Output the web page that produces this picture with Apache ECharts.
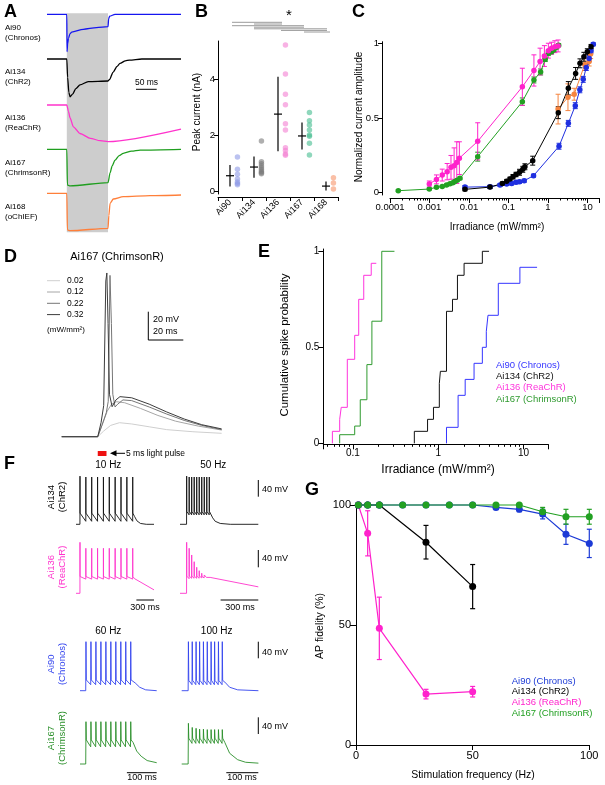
<!DOCTYPE html>
<html><head><meta charset="utf-8">
<script src="https://cdn.jsdelivr.net/npm/echarts@6/dist/echarts.min.js"></script>
<style>html,body{margin:0;padding:0;background:#fff}#c{width:605px;height:785px}</style>
</head><body><div id="c"></div>
<script>
// ================= DATA =================
// Panel A: photocurrent traces (time ms, normalized current)
const aNames = ['Ai90','Ai134','Ai136','Ai167','Ai168'];
const aSubs = ['(Chronos)','(ChR2)','(ReaChR)','(ChrimsonR)','(oChIEF)'];
const aLight = [48, 148];
const aChronos = [[0,0],[48,0],[48.6,-1.01],[50,-0.8],[52,-0.65],[56,-0.52],[60,-0.48],[88,-0.405],[120,-0.36],[148,-0.335],[149.5,-0.12],[152,-0.05],[165,0],[325,0]];
const aChR2 = [[0,0],[48,0],[50,-0.5],[53,-0.9],[56,-1.02],[62,-0.95],[70,-0.8],[80,-0.7],[100,-0.61],[148,-0.595],[152,-0.55],[160,-0.36],[170,-0.2],[177,-0.12],[190,-0.05],[200,-0.03],[230,0],[325,0]];
const aReaChR = [[0,0],[48,0],[52,-0.17],[56,-0.35],[64,-0.59],[80,-0.77],[105,-0.9],[129,-0.965],[148,-0.99],[325,-0.65]];
const aChrimsonR = [[0,0],[48,0],[49.5,-0.965],[56,-0.99],[148,-0.9],[153,-0.64],[158,-0.45],[165,-0.29],[175,-0.17],[185,-0.108],[205,-0.05],[226,-0.02],[325,0]];
const aoChIEF = [[0,0],[48,0],[49.5,-0.99],[56,-1.01],[148,-0.946],[150,-0.6],[153,-0.27],[161,-0.154],[185,-0.092],[250,-0.065],[325,-0.046]];

// Panel B: peak current (nA)
const bCats = ['Ai90','Ai134','Ai136','Ai167','Ai168'];
const bAi90 = [1.24,0.80,0.62,0.45,0.35,0.29,0.25];
const bAi134 = [1.81,1.07,1.0,0.92,0.85,0.78,0.72,0.68,0.64];
const bAi136 = [5.24,4.2,3.48,3.1,2.43,2.2,1.57,1.47,1.35,1.3];
const bAi167 = [2.83,2.53,2.38,2.2,2.02,1.98,1.73,1.31];
const bAi168 = [0.5,0.31,0.1];
const bMean = [0.57,0.88,2.77,1.99,0.2];
const bSD = [0.38,0.38,1.33,0.48,0.16];

// Panel C: [irradiance, normalized amplitude, error]
const cChronos = [[0.0079,0.035,0.01],[0.034,0.038,0.01],[0.061,0.049,0.01],[0.09,0.056,0.01],[0.12,0.06,0.01],[0.155,0.067,0.01],[0.19,0.071,0.01],[0.25,0.078,0.01],[0.43,0.112,0.01],[1.9,0.31,0.02],[3.27,0.464,0.02],[4.9,0.583,0.02],[6.4,0.69,0.02],[7.8,0.76,0.02],[9.3,0.84,0.02],[11.0,0.90,0.02],[12.3,0.953,0.015],[14.0,0.996,0.01]];
const cChR2 = [[0.0079,0.02,0.01],[0.034,0.035,0.01],[0.07,0.06,0.01],[0.09,0.075,0.012],[0.109,0.09,0.012],[0.13,0.105,0.015],[0.155,0.12,0.015],[0.19,0.135,0.02],[0.23,0.155,0.02],[0.26,0.172,0.02],[0.41,0.213,0.03],[1.82,0.536,0.04],[3.27,0.70,0.045],[5.0,0.80,0.04],[6.45,0.868,0.03],[8.1,0.912,0.03],[9.9,0.946,0.02],[12.3,0.98,0.015]];
const cReaChR = [[0.00099,0.056,0.02],[0.0015,0.087,0.03],[0.0021,0.116,0.04],[0.0028,0.139,0.055],[0.0035,0.168,0.08],[0.0042,0.179,0.12],[0.0049,0.20,0.14],[0.0057,0.23,0.11],[0.0166,0.343,0.125],[0.224,0.71,0.125],[0.44,0.82,0.105],[0.63,0.88,0.09],[0.81,0.917,0.07],[1.02,0.953,0.05],[1.23,0.97,0.04],[1.49,0.98,0.04],[1.8,0.985,0.04]];
const cChrimsonR = [[0.000162,0.011,0.005],[0.00099,0.022,0.005],[0.0015,0.034,0.006],[0.0021,0.04,0.006],[0.0027,0.049,0.006],[0.0033,0.058,0.007],[0.0039,0.065,0.007],[0.0044,0.072,0.008],[0.005,0.081,0.008],[0.0059,0.094,0.009],[0.0166,0.24,0.03],[0.224,0.61,0.025],[0.44,0.756,0.02],[0.65,0.81,0.02],[0.85,0.895,0.015],[1.02,0.935,0.015],[1.23,0.946,0.015],[1.41,0.957,0.01],[1.65,0.976,0.01],[1.86,0.99,0.01]];
const coChIEF = [[1.8,0.56,0.1],[3.2,0.64,0.09],[4.6,0.66,0.04],[8.5,0.86,0.04],[11,0.88,0.03],[12,0.93,0.03]];

// Panel D: membrane potential (ms, mV) at four irradiances
const dLevels = ['0.02','0.12','0.22','0.32'];
const d002 = [[0,-70],[20.6,-70],[24,-66],[28,-62],[33,-60.1],[40,-61],[50,-63],[60,-65],[75,-66.5],[91.4,-67.6]];
const d012 = [[0,-70],[20.6,-70],[23,-62],[26,-52],[28.5,-47],[31.4,-45.3],[36,-46],[45,-50],[55,-55],[65,-59],[78,-62.5],[91.4,-65.3]];
const d022 = [[0,-70],[20.6,-70],[23,-62],[25.5,-53],[26.6,-45],[27.6,44],[28.4,10],[29.2,-40],[30.5,-49],[32,-47],[35,-44],[40,-44.5],[50,-49],[60,-54],[70,-58.5],[80,-62],[91.4,-65]];
const d032 = [[0,-70],[20.6,-70],[22.5,-60],[24,-48],[25.2,40],[25.8,45.7],[26.5,10],[27.3,-40],[28.8,-48.8],[31,-44],[33.3,-41.7],[40,-42.5],[50,-47],[60,-52.5],[70,-57.5],[80,-61.5],[91.4,-64.5]];
const dPulse = [20.6, 25.6];

// Panel E: cumulative spike probability [irradiance, probability]
const eChronos = [[1.25,0],[1.25,0.0833],[1.71,0.25],[2.07,0.333],[2.63,0.4167],[3.29,0.5],[3.66,0.5833],[3.83,0.6667],[5.06,0.8333],[9.06,0.9167],[14.4,0.9167]];
const eChR2 = [[0.525,0],[0.525,0.0625],[0.75,0.125],[0.88,0.1875],[1.03,0.3125],[1.06,0.375],[1.25,0.6875],[1.47,0.75],[1.68,0.875],[2.01,0.9375],[3.29,1.0],[3.94,1.0]];
const eReaChR = [[0.0575,0],[0.0575,0.0625],[0.070,0.125],[0.073,0.1875],[0.086,0.4375],[0.105,0.5625],[0.117,0.75],[0.134,0.875],[0.164,0.9375],[0.188,0.9375]];
const eChrimsonR = [[0.070,0],[0.070,0.045],[0.105,0.09],[0.122,0.227],[0.146,0.41],[0.167,0.636],[0.218,1.0],[0.307,1.0]];
const eLegend = ['Ai90 (Chronos)','Ai134 (ChR2)','Ai136 (ReaChR)','Ai167 (ChrimsonR)'];

// Panel F: spike trains (ms, mV): spike times, peaks, pre-spike level, post-spike level, tail
const f1L_t = [68,168,268,368,468,568,668,768,868,968];
const f1L_pk = [42,40,40,40,40,40,40,40,40,40];
const f1L_pre = [-70,-63,-63,-63,-63,-63,-63,-63,-63,-63];
const f1L_post = [-44,-44,-44,-44,-44,-44,-44,-44,-44,-44];
const f1L_tail = [[1000,-52],[1040,-62],[1100,-68],[1200,-70],[1331,-70]];
const f1R_t = [53,73,93,113,133,153,173,193,213,233];
const f1R_pk = [42,40,40,40,40,40,40,40,40,40];
const f1R_pre = [-70,-48,-48,-48,-48,-48,-48,-48,-48,-48];
const f1R_post = [-40,-40,-40,-40,-40,-40,-40,-40,-40,-40];
const f1R_tail = [[245,-43],[260,-55],[280,-63],[320,-68],[400,-70],[623,-70]];
const f2L_t = [68,168,268,368,468,568,668,768,868,968];
const f2L_pk = [48.6,34.7,34.7,34.7,34.7,34.7,34.7,34.7,34.7,34.7];
const f2L_pre = [-70,-37,-37,-37,-37,-37,-37,-37,-37,-37];
const f2L_post = [-31,-31,-31,-31,-31,-31,-31,-31,-31,-31];
const f2L_tail = [[1000,-36],[1331,-62]];
const f2R_t = [53,73,93,113,133,153,173,193];
const f2R_pk = [48.6,34.7,19.1,3.5,-9.5,-17.4,-23.4,-27.4];
const f2R_pre = [-70,-36,-35,-35,-35,-35,-34,-34];
const f2R_post = [-30,-30,-30,-30,-30,-30,-31,-31];
const f2R_tail = [[210,-33],[240,-33],[623,-55]];
const f3L_t = [20,36.7,53.3,70,86.7,103.3,120,136.7,153.3,170];
const f3L_pk = [44,44,44,44,44,44,44,44,44,44];
const f3L_pre = [-70,-56,-56,-56,-56,-56,-56,-56,-56,-56];
const f3L_post = [-45,-45,-45,-45,-45,-45,-45,-45,-45,-45];
const f3L_tail = [[185,-52],[200,-62],[220,-68],[257,-70]];
const f3R_t = [21,33,45,56,68,80,92,103,115,127];
const f3R_pk = [44,44,44,44,44,44,44,44,44,44];
const f3R_pre = [-70,-56,-56,-56,-56,-56,-56,-56,-56,-56];
const f3R_post = [-46,-46,-46,-46,-46,-46,-46,-46,-46,-46];
const f3R_tail = [[135,-50],[150,-62],[175,-68],[240,-70]];
const f4L_t = [20,36.7,53.3,70,86.7,103.3,120,136.7,153.3,170];
const f4L_pk = [28.4,28.4,28.4,28.4,28.4,28.4,28.4,28.4,28.4,28.4];
const f4L_pre = [-70,-30,-30,-30,-30,-30,-30,-30,-30,-30];
const f4L_post = [-14,-14,-14,-14,-14,-14,-14,-14,-14,-14];
const f4L_tail = [[178,-20],[190,-40],[205,-52],[225,-62],[257,-67]];
const f4R_t = [21,33,45,56,68,80,92,103,115,127];
const f4R_pk = [24.6,15,13,11,11,10,10,10,10,10];
const f4R_pre = [-70,-22,-22,-22,-22,-22,-22,-22,-22,-22];
const f4R_post = [-10,-10,-10,-10,-10,-10,-10,-10,-10,-10];
const f4R_tail = [[135,-20],[150,-45],[175,-60],[200,-66],[240,-68]];

// Panel G: AP fidelity [frequency Hz, %, error]
const gChronos = [[1,100,0],[5,100,0],[10,100,0],[20,100,0],[30,100,0],[40,100,0],[50,100,0],[60,99,0.5],[70,98.2,1],[80,96.2,2],[90,87.8,4.2],[100,84,5.9]];
const gChR2 = [[1,100,0],[5,100,0],[10,100,0],[30,84.5,7],[50,66,9.2]];
const gReaChR = [[1,100,0],[5,88.2,9.4],[10,48.6,13],[30,21.2,2],[50,22.2,2.2]];
const gChrimsonR = [[1,100,0],[5,100,0],[10,100,0],[20,100,0],[30,100,0],[40,100,0],[50,100,0],[60,100,0],[70,100,0.5],[80,97.2,1.8],[90,95.1,3.1],[100,95.1,3.1]];

// ================= RENDER =================
const FONT = 'Liberation Sans, Arial, Helvetica, sans-serif';
const COL = {blue:'#1f2fe0', black:'#000000', mag:'#ff22cc', green:'#22a022', orange:'#f5843f'};
const grids=[], xAxes=[], yAxes=[], series=[], G=[];
function addGrid(g, xa, ya){ grids.push(Object.assign({containLabel:false}, g)); const gi=grids.length-1;
  const xs=[].concat(xa), ys=[].concat(ya); const xi=[], yi=[];
  xs.forEach(a=>{a.gridIndex=gi; xAxes.push(a); xi.push(xAxes.length-1);});
  ys.forEach(a=>{a.gridIndex=gi; yAxes.push(a); yi.push(yAxes.length-1);});
  return {x:xi[0], x2:xi[1], y:yi[0]}; }
function hid(min,max){ return {type:'value', show:false, min, max}; }
function vis(extra, fs, tl){ return Object.assign({
  axisLine:{show:true, onZero:false, lineStyle:{color:'#000', width:1}},
  axisTick:{show:true, inside:false, length:tl, lineStyle:{color:'#000', width:1}},
  axisLabel:{color:'#000', fontSize:fs, fontFamily:FONT, margin:3},
  splitLine:{show:false}}, extra); }
function txt(x,y,s,fs,o={}){ G.push({type:'text', x, y, rotation:o.rot||0, silent:true, z:100,
  style:{text:s, fontSize:fs, fontFamily:FONT, fontWeight:o.bold?'bold':'normal', fill:o.color||'#000',
  align:o.align||'left', verticalAlign:'middle', lineHeight:o.lh||Math.round(fs*1.2)}}); }
function ln(x1,y1,x2,y2,c,w){ G.push({type:'line', silent:true, z:100, shape:{x1,y1,x2,y2}, style:{stroke:c||'#000', lineWidth:w||1}}); }
function lineSer(ax, data, color, w, extra){ series.push(Object.assign({type:'line', xAxisIndex:ax.x, yAxisIndex:ax.y, data,
  symbol:'none', lineStyle:{color, width:w||1}, itemStyle:{color}, z:3, silent:true, clip:false}, extra||{})); }
function errSer(ax, data, color, cap, w){ series.push({type:'custom', xAxisIndex:ax.x, yAxisIndex:ax.y, data, z:2, silent:true,
  encode:{x:0,y:1}, renderItem:(p,api)=>{ const x=api.value(0), y=api.value(1), e=api.value(2);
   if(!e) return null; const t=api.coord([x,y+e]), b=api.coord([x,y-e]), h=cap/2;
   const st={stroke:color, lineWidth:w||1};
   return {type:'group', children:[
    {type:'line', shape:{x1:t[0],y1:t[1],x2:b[0],y2:b[1]}, style:st},
    {type:'line', shape:{x1:t[0]-h,y1:t[1],x2:t[0]+h,y2:t[1]}, style:st},
    {type:'line', shape:{x1:b[0]-h,y1:b[1],x2:b[0]+h,y2:b[1]}, style:st}]}; }}); }

// ---------- Panel A ----------
txt(4,12,'A',18,{bold:true});
const aBg = addGrid({left:47, top:13.3, width:134, height:219}, hid(0,325), hid(0,1));
series.push({type:'line', xAxisIndex:aBg.x, yAxisIndex:aBg.y, data:[], z:1, silent:true,
  markArea:{silent:true, itemStyle:{color:'#cdcdcd'}, data:[[{xAxis:aLight[0]},{xAxis:aLight[1]}]]}});
const aBase = [14.3, 59, 105, 149.3, 193.3];
const aData = [aChronos, aChR2, aReaChR, aChrimsonR, aoChIEF];
const aCol = ['#1515f0','#000000','#ff33cc','#1f9e1f','#ff7f3a'];
aData.forEach((d,k)=>{ const ax = addGrid({left:47, top:aBase[k]-3, width:134, height:42}, hid(0,325), hid(-39/37, 3/37));
  lineSer(ax, d, aCol[k], 1.3, {smooth:0.25, smoothMonotone:'x'});
  txt(5, aBase[k]+13, aNames[k], 8); txt(5, aBase[k]+23, aSubs[k], 8); });
ln(136,89.3,156.7,89.3,'#000',1); txt(146.5,83,'50 ms',8.5,{align:'center'});

// ---------- Panel B ----------
txt(195,12,'B',18,{bold:true});
const bAx = addGrid({left:218, top:41, width:120, height:153},
  [vis({type:'category', data:bCats, boundaryGap:true, offset:3,
     axisLabel:{color:'#000', fontSize:9, fontFamily:FONT, rotate:45, margin:4, interval:0}}, 9, 4), hid(-0.5,4.5)],
  vis({type:'value', min:-0.082, max:5.38,
     axisLabel:{color:'#000', fontSize:9.5, fontFamily:FONT, margin:3, customValues:[0,2,4]},
     axisTick:{show:true, length:4, lineStyle:{color:'#000'}, customValues:[0,2,4]}}, 9.5, 4));
const bDotAx = {x:bAx.x2, y:bAx.y};
const bDots = [bAi90, bAi134, bAi136, bAi167, bAi168];
const bCol = ['#8d9ae6','#7a7a7a','#f47fd2','#45bd90','#f7956a'];
bDots.forEach((arr,i)=>{ series.push({type:'scatter', xAxisIndex:bDotAx.x, yAxisIndex:bDotAx.y, symbolSize:5.5, silent:true, z:2,
  itemStyle:{color:bCol[i], opacity:0.6}, data:arr.map(v=>[i+0.31, v])}); });
series.push({type:'custom', xAxisIndex:bDotAx.x, yAxisIndex:bDotAx.y, z:3, silent:true, encode:{x:0,y:1},
  data:bMean.map((m,i)=>[i,m,bSD[i]]), renderItem:(p,api)=>{ const x=api.value(0), m=api.value(1), s=api.value(2);
   const c=api.coord([x,m]), t=api.coord([x,m+s]), b=api.coord([x,m-s]); const st={stroke:'#000', lineWidth:1.2};
   return {type:'group', children:[{type:'line', shape:{x1:c[0]-4,y1:c[1],x2:c[0]+4,y2:c[1]}, style:st},
     {type:'line', shape:{x1:t[0],y1:t[1],x2:b[0],y2:b[1]}, style:st}]}; }});
txt(197,112,'Peak current (nA)',10,{rot:Math.PI/2, align:'center'});
[[232,282,22.3],[254,282,24],[232,304,25.7],[254,304,27.2],[254,327,28.8],[281,327,30.4],[304,330,32]].forEach(s=>ln(s[0],s[2],s[1],s[2],'#9a9a9a',1));
txt(289,16,'*',15,{align:'center'});

// ---------- Panel C ----------
txt(352,12,'C',18,{bold:true});
const cAx = addGrid({left:390, top:41.7, width:209.4, height:153.3},
  vis({type:'log', logBase:10, min:0.0001, max:20, offset:3,
    axisLabel:{color:'#000', fontSize:9.5, fontFamily:FONT, margin:4, showMaxLabel:false},
    minorTick:{show:true, splitNumber:9, length:2.5, lineStyle:{color:'#000'}}}, 9.5, 5),
  vis({type:'value', min:-0.018, max:1.0135, offset:8,
    axisLabel:{color:'#000', fontSize:9.5, fontFamily:FONT, margin:3, customValues:[0,0.5,1]},
    axisTick:{show:true, length:4, lineStyle:{color:'#000'}, customValues:[0,0.5,1]}}, 9.5, 4));
[[coChIEF,COL.orange],[cChronos,COL.blue],[cChR2,COL.black],[cChrimsonR,COL.green],[cReaChR,COL.mag]].forEach(([d,c])=>{
  errSer(cAx, d, c, 5, 1);
  series.push({type:'line', xAxisIndex:cAx.x, yAxisIndex:cAx.y, data:d.map(p=>[p[0],p[1]]), symbol:'circle', symbolSize:5.5,
    showAllSymbol:true, silent:true, z:3, lineStyle:{color:c, width:1}, itemStyle:{color:c}});
});
txt(359,117,'Normalized current amplitude',10,{rot:Math.PI/2, align:'center'});
txt(497,227,'Irradiance (mW/mm²)',10,{align:'center'});

// ---------- Panel D ----------
txt(4,257,'D',18,{bold:true});
txt(117,257,'Ai167 (ChrimsonR)',11,{align:'center'});
const dAx = addGrid({left:61.7, top:270, width:160, height:170}, hid(0,91.43), hid(-72.33,47.8));
const dCol = ['#cfcfcf','#a6a6a6','#767676','#3c3c3c'];
[d002,d012,d022,d032].forEach((d,k)=>lineSer(dAx, d, dCol[k], 1, {z:3+k}));
const dStim = addGrid({left:61.7, top:451, width:160, height:5}, hid(0,91.43), hid(0,1));
series.push({type:'line', xAxisIndex:dStim.x, yAxisIndex:dStim.y, data:[], silent:true,
  markArea:{silent:true, itemStyle:{color:'#ee1111'}, data:[[{xAxis:dPulse[0]},{xAxis:dPulse[1]}]]}});
const dLegY=[280.7,292,303.3,314.6];
dLevels.forEach((s,k)=>{ ln(47,dLegY[k],60,dLegY[k],dCol[k],1); txt(67,dLegY[k],s,8.5); });
txt(66,329.3,'(mW/mm²)',8,{align:'center'});
ln(148.3,311.7,148.3,340); ln(148.3,340,183.3,340);
txt(153,319.3,'20 mV',9); txt(153,331.7,'20 ms',9);
G.push({type:'polygon', silent:true, z:100, shape:{points:[[110,453.3],[116.5,450.3],[116.5,456.3]]}, style:{fill:'#000'}});
ln(116,453.3,125,453.3);
txt(126,453.3,'5 ms light pulse',8.5);

// ---------- Panel E ----------
txt(258,252,'E',18,{bold:true});
const eAx = addGrid({left:323.3, top:249, width:225, height:195.3},
  vis({type:'log', logBase:10, min:0.045, max:19.5,
    axisLabel:{color:'#000', fontSize:10, fontFamily:FONT, margin:4, showMinLabel:false, showMaxLabel:false},
    minorTick:{show:true, splitNumber:9, length:2.5, lineStyle:{color:'#000'}}}, 10, 5),
  vis({type:'value', min:-0.005, max:1.012,
    axisLabel:{color:'#000', fontSize:10, fontFamily:FONT, margin:4, customValues:[0,0.5,1]},
    axisTick:{show:true, length:5, lineStyle:{color:'#000'}, customValues:[0,0.5,1]}}, 10, 5));
const eCol = ['#3535ff','#111111','#ff33dd','#2f9a2f'];
[eChronos,eChR2,eReaChR,eChrimsonR].forEach((d,k)=>lineSer(eAx, d, eCol[k], 1, {step:'end'}));
eLegend.forEach((s,k)=>txt(496,365+k*11.3,s,9.5,{color:eCol[k]}));
txt(285,345,'Cumulative spike probability',11.5,{rot:Math.PI/2, align:'center'});
txt(438,470,'Irradiance (mW/mm²)',12,{align:'center'});

// ---------- Panel F ----------
txt(4,464,'F',18,{bold:true});
function train(t,pk,pre,post,tail){ const pts=[[0,-70]];
  for(let i=0;i<t.length;i++){ pts.push([t[i]-0.8,pre[i]]); pts.push([t[i],pk[i]]); pts.push([t[i]+1.2,post[i]]); }
  return pts.concat(tail); }
const fMvMin=-79.3, fMvMax=50.93;
const fRows = [
 {base:524.3, col:'#111111', L:[76,78,1331, train(f1L_t,f1L_pk,f1L_pre,f1L_post,f1L_tail)], R:[180,78.3,623, train(f1R_t,f1R_pk,f1R_pre,f1R_post,f1R_tail)]},
 {base:593.3, col:'#ff33cc', L:[76,78,1331, train(f2L_t,f2L_pk,f2L_pre,f2L_post,f2L_tail)], R:[180,78.3,623, train(f2R_t,f2R_pk,f2R_pre,f2R_post,f2R_tail)]},
 {base:690.7, col:'#3344ee', L:[80,76.7,257, train(f3L_t,f3L_pk,f3L_pre,f3L_post,f3L_tail)], R:[181.7,76.7,240, train(f3R_t,f3R_pk,f3R_pre,f3R_post,f3R_tail)]},
 {base:764, col:'#2a8f2a', L:[80,76.7,257, train(f4L_t,f4L_pk,f4L_pre,f4L_post,f4L_tail)], R:[181.7,76.7,240, train(f4R_t,f4R_pk,f4R_pre,f4R_post,f4R_tail)]}];
fRows.forEach(r=>{ ['L','R'].forEach(side=>{ const s=r[side];
  const ax = addGrid({left:s[0], top:r.base-52, width:s[1], height:56}, hid(0,s[2]), hid(fMvMin,fMvMax));
  lineSer(ax, s[3], r.col, 0.9); }); });
txt(108.3,465,'10 Hz',10,{align:'center'}); txt(213.3,465,'50 Hz',10,{align:'center'});
txt(108.3,631,'60 Hz',10,{align:'center'}); txt(216.7,631,'100 Hz',10,{align:'center'});
txt(57,497,'Ai134\n(ChR2)',9.5,{rot:Math.PI/2, align:'center', lh:11});
txt(57,567,'Ai136\n(ReaChR)',9.5,{rot:Math.PI/2, align:'center', color:'#ff33cc', lh:11});
txt(57,664,'Ai90\n(Chronos)',9.5,{rot:Math.PI/2, align:'center', color:'#3344ee', lh:11});
txt(57,738,'Ai167\n(ChrimsonR)',9.5,{rot:Math.PI/2, align:'center', color:'#2a8f2a', lh:11});
[[480,496.7,490],[550,567.3,558.5],[641.7,658.3,652.7],[717.3,734,726.7]].forEach(b=>{ ln(258.3,b[0],258.3,b[1]); txt(262,b[2],'40 mV',9); });
ln(136.4,600,154,600); txt(145,607.5,'300 ms',9,{align:'center'});
ln(220.6,600,258.3,600); txt(240,607.5,'300 ms',9,{align:'center'});
ln(126.9,772.7,156.7,772.7); txt(142,778,'100 ms',9,{align:'center'});
ln(226.3,772.7,258.3,772.7); txt(242,778,'100 ms',9,{align:'center'});

// ---------- Panel G ----------
txt(305,490,'G',18,{bold:true});
const gAx = addGrid({left:356, top:505, width:233.3, height:240},
  vis({type:'value', min:0, max:100, interval:50, axisLabel:{color:'#000', fontSize:11, fontFamily:FONT, margin:5}}, 11, 5),
  vis({type:'value', min:0, max:100, interval:50, axisLabel:{color:'#000', fontSize:11, fontFamily:FONT, margin:5}}, 11, 6));
[[gChR2,COL.black],[gReaChR,COL.mag],[gChronos,'#1c3ad6'],[gChrimsonR,COL.green]].forEach(([d,c])=>{
  errSer(gAx, d, c, 5, 1.2);
  series.push({type:'line', xAxisIndex:gAx.x, yAxisIndex:gAx.y, data:d.map(p=>[p[0],p[1]]), symbol:'circle', symbolSize:7,
    showAllSymbol:true, silent:true, z:3, clip:false, lineStyle:{color:c, width:1.2}, itemStyle:{color:c}});
});
const gLegCol = ['#1c3ad6','#000','#ff22cc','#22a022'];
eLegend.forEach((s,k)=>txt(511.7,681+k*10.8,s,9.5,{color:gLegCol[k]}));
txt(320,626,'AP fidelity (%)',10.5,{rot:Math.PI/2, align:'center'});
txt(473,775,'Stimulation frequency (Hz)',10.5,{align:'center'});

const chart = echarts.init(document.getElementById('c'), null, {renderer:'canvas'});
chart.setOption({animation:false, backgroundColor:'#fff', grid:grids, xAxis:xAxes, yAxis:yAxes, series, graphic:G});
</script></body></html>
